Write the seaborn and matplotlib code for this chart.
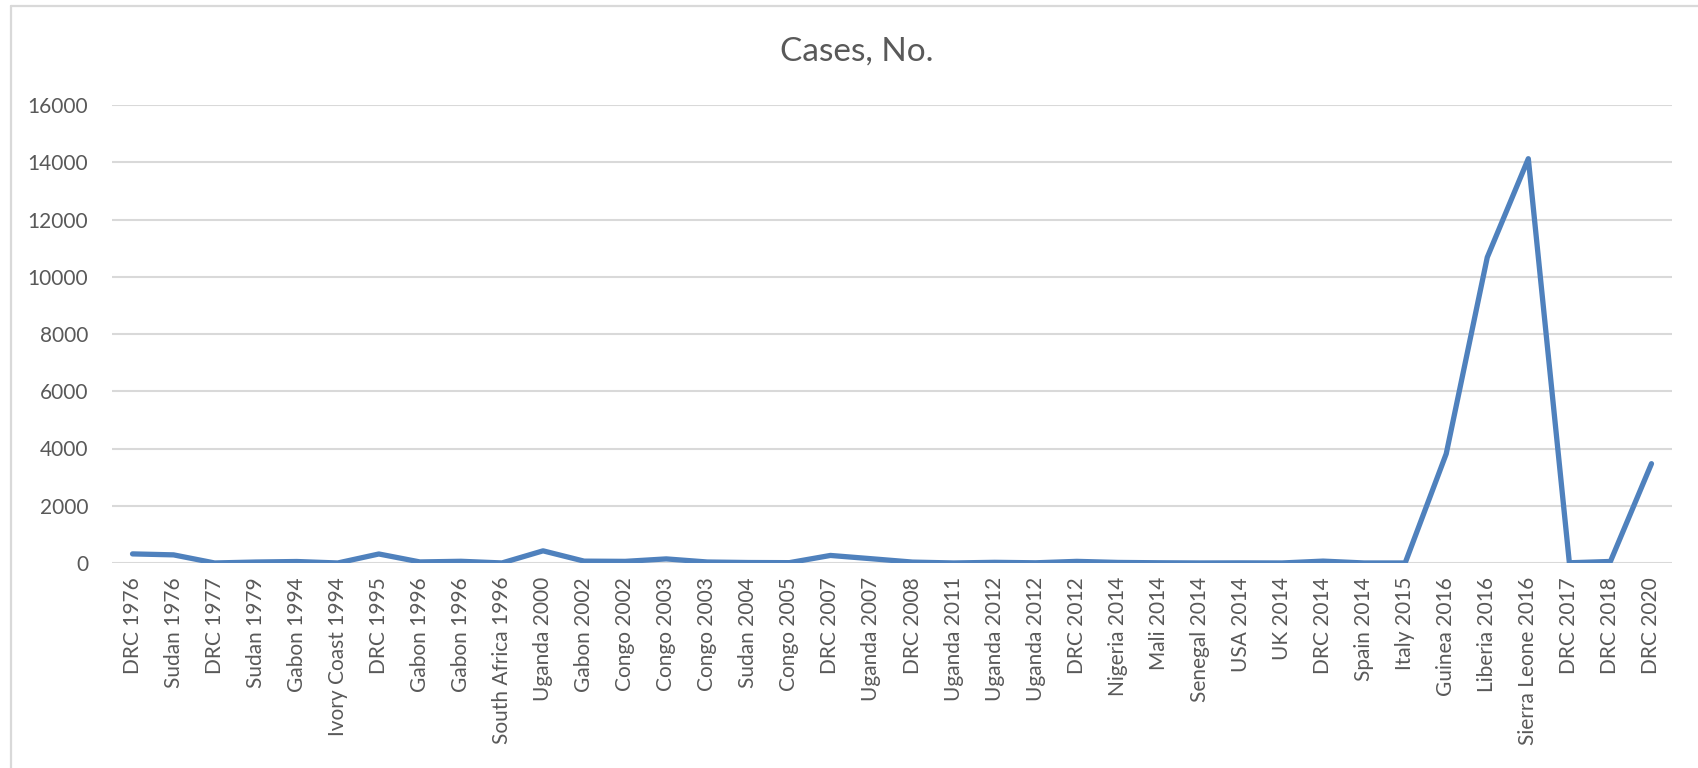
import numpy as np
import pandas as pd
import matplotlib
matplotlib.use("Agg")
import matplotlib.pyplot as plt
from matplotlib.lines import Line2D
import seaborn as sns

# Ebola outbreaks, reported cases per outbreak
outbreaks = [
    "DRC 1976", "Sudan 1976", "DRC 1977", "Sudan 1979", "Gabon 1994",
    "Ivory Coast 1994", "DRC 1995", "Gabon 1996", "Gabon 1996", "South Africa 1996",
    "Uganda 2000", "Gabon 2002", "Congo 2002", "Congo 2003", "Congo 2003",
    "Sudan 2004", "Congo 2005", "DRC 2007", "Uganda 2007", "DRC 2008",
    "Uganda 2011", "Uganda 2012", "Uganda 2012", "DRC 2012", "Nigeria 2014",
    "Mali 2014", "Senegal 2014", "USA 2014", "UK 2014", "DRC 2014",
    "Spain 2014", "Italy 2015", "Guinea 2016", "Liberia 2016", "Sierra Leone 2016",
    "DRC 2017", "DRC 2018", "DRC 2020",
]
cases = [
    318, 284, 1, 34, 52,
    1, 315, 37, 60, 2,
    425, 65, 57, 143, 35,
    17, 12, 264, 149, 32,
    1, 24, 7, 57, 20,
    8, 1, 4, 1, 66,
    1, 1, 3814, 10678, 14124,
    8, 54, 3470,
]
y_ticks = [0, 2000, 4000, 6000, 8000, 10000, 12000, 14000, 16000]
title = "Cases, No."

df = pd.DataFrame({"pos": np.arange(len(outbreaks)), "cases": cases})

sns.set_theme(style="white")
plt.rcParams["font.family"] = ["Lato", "DejaVu Sans"]

text_color = "#595959"
grid_color = "#d9d9d9"
line_color = "#4f81bd"

W, H = 1699, 768
fig = plt.figure(figsize=(W / 100, H / 100), dpi=100)
fig.patch.set_facecolor("white")

left, right, top, bottom = 112, 1672, 105, 563
ax = fig.add_axes([left / W, 1 - bottom / H, (right - left) / W, (bottom - top) / H])

sns.lineplot(data=df, x="pos", y="cases", ax=ax, color=line_color,
             linewidth=3.8, estimator=None, sort=False,
             solid_joinstyle="round", solid_capstyle="round", zorder=3)

ax.set_xlim(-0.5, len(outbreaks) - 0.5)
ax.set_ylim(0, 16000)
ax.set_yticks(y_ticks)
ax.set_yticklabels([str(v) for v in y_ticks])
ax.set_xticks(np.arange(len(outbreaks)))
ax.set_xticklabels(outbreaks, rotation=90, va="top", ha="center")

ax.grid(axis="y", color=grid_color, linewidth=1.5)
ax.grid(axis="x", visible=False)
ax.set_axisbelow(True)
for s in ax.spines.values():
    s.set_visible(False)

ax.tick_params(axis="y", length=0, pad=17, labelsize=15, labelcolor=text_color)
ax.tick_params(axis="x", length=0, pad=10, labelsize=15, labelcolor=text_color)
ax.set_xlabel("")
ax.set_ylabel("")

fig.text(857 / W, 1 - 52 / H, title, ha="center", va="center",
         fontsize=24, color=text_color)

# chart frame (left and top edges)
fig.add_artist(Line2D([11 / W, 11 / W], [1 - 6 / H, 0], transform=fig.transFigure,
                      color=grid_color, linewidth=1.6))
fig.add_artist(Line2D([11 / W, 1], [1 - 6 / H, 1 - 6 / H], transform=fig.transFigure,
                      color=grid_color, linewidth=1.6))

fig.savefig("out.png", dpi=100, facecolor="white")
